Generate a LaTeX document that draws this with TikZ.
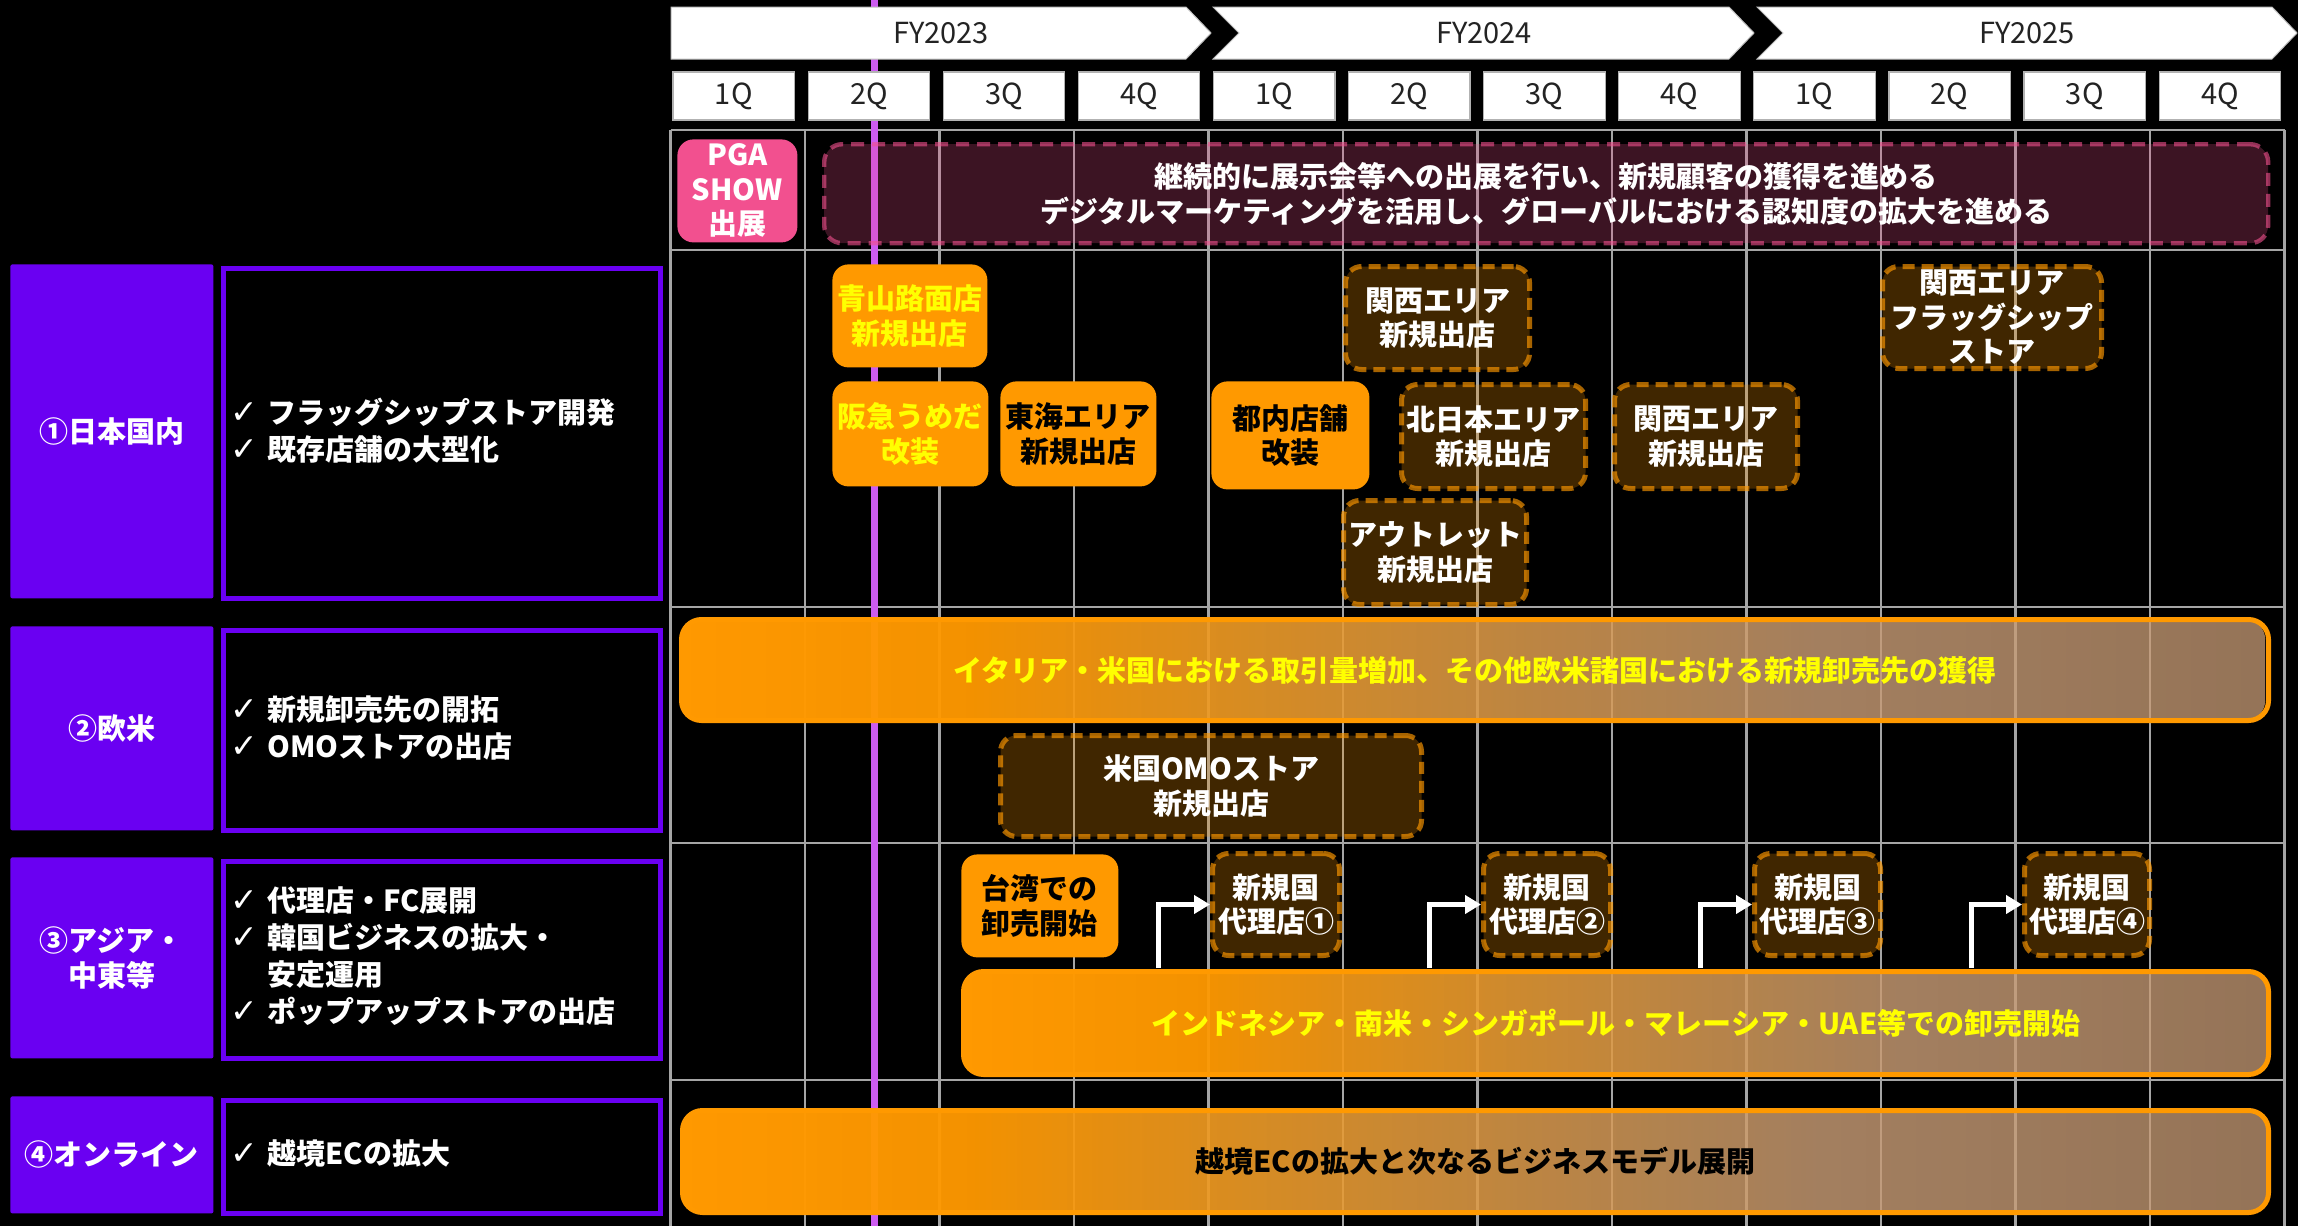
\documentclass[tikz,border=0pt]{standalone}
\usepackage{fontspec}
\setmainfont{Noto Sans CJK JP}
\newfontfamily\chkfont{DejaVu Sans}
\usetikzlibrary{arrows.meta,fadings}
\definecolor{vio}{RGB}{106,0,242}
\definecolor{vline}{RGB}{204,92,240}
\definecolor{org}{RGB}{255,153,0}
\definecolor{tanc}{RGB}{199,155,117}
\definecolor{pinkc}{RGB}{242,80,143}
\definecolor{gridc}{RGB}{165,165,165}
\definecolor{ylw}{RGB}{255,255,0}
\definecolor{qtext}{RGB}{35,35,35}
\pgfdeclarehorizontalshading{barshade}{100bp}{color(0bp)=(org); color(34bp)=(org); color(61bp)=(tanc); color(100bp)=(tanc)}
\tikzfading[name=barfade, left color=transparent!0, right color=transparent!25]
\newcommand\fb{\bfseries\fontsize{14.5}{17.25}\selectfont}
\newcommand\fl{\bfseries\fontsize{14.5}{18.4}\selectfont}
\newcommand\fq{\fontsize{14.5}{16}\selectfont}
\newcommand\ck{\makebox[18.5pt][l]{\chkfont\mdseries\fontsize{16.5}{14}\selectfont ✓}}
\newcommand\bx[7]{\node[#2, minimum width={(#5-#3)*0.5pt}, minimum height={(#6-#4)*0.5pt}, anchor=north west] (#1) at (#3,#4) {#7};}
\begin{document}
\begin{tikzpicture}[x=0.5pt,y=-0.5pt,
  gridl/.style={draw=gridc, line width=1.2pt},
  vl/.style={draw=vline, line width=3.5pt},
  chev/.style={fill=white, draw=gray!50, line width=0.5pt},
  fytxt/.style={font=\fq, text=qtext, inner sep=0pt},
  qbox/.style={fill=white, draw=gray!60, line width=0.6pt, minimum width=60.75pt, minimum height=24pt, inner sep=0pt, font=\fq, text=qtext},
  base/.style={inner sep=0pt, align=center, font=\fb},
  lab/.style={base, fill=vio, rounded corners=1pt, text=white},
  desc/.style={base, draw=vio, line width=2.5pt, fill=black},
  listtxt/.style={inner sep=0pt, align=left, font=\fl, text=white, anchor=west},
  pgabox/.style={base, fill=pinkc, rounded corners=8pt, text=white},
  maroonbox/.style={base, fill=pinkc, fill opacity=0.25, draw=pinkc, draw opacity=0.6, text opacity=1, line width=2.2pt, dash pattern=on 6.5pt off 4pt, rounded corners=9pt, text=white},
  obox/.style={base, fill=org, rounded corners=8pt, text=black},
  dbox/.style={base, fill=org, fill opacity=0.25, draw=org, draw opacity=0.65, text opacity=1, line width=2.5pt, dash pattern=on 6pt off 3.5pt, rounded corners=8pt, text=white},
  gbar/.style={base, draw=org, line width=2.5pt, rounded corners=10pt, text=black, preaction={shade, shading=barshade, path fading=barfade}},
  arr/.style={draw=white, line width=2.5pt, -{Triangle[length=8pt, width=9pt]}}
]
\fill[black] (0,0) rectangle (2298,1226);
\useasboundingbox (0,0) rectangle (2298,1226);
% grid
\foreach \k in {0,...,12} \draw[gridl] ({670.5+134.5*\k},130) -- ({670.5+134.5*\k},1226);
\foreach \y in {130,250,607,843,1080} \draw[gridl] (670.5,\y) -- (2284.5,\y);
% current-time line
\draw[vl] (874,0) -- (874,1226);
% fiscal years
\path[chev] (671,7) -- (1186,7) -- (1211,33) -- (1186,59) -- (671,59) -- cycle;
\path[chev] (1213,7) -- (1729,7) -- (1754,33) -- (1729,59) -- (1213,59) -- (1239,33) -- cycle;
\path[chev] (1757,7) -- (2272,7) -- (2297,33) -- (2272,59) -- (1757,59) -- (1783,33) -- cycle;
\node[fytxt] (fy23) at (941,33) {FY2023};
\node[fytxt] (fy24) at (1484,33) {FY2024};
\node[fytxt] (fy25) at (2027,33) {FY2025};
% quarters
\foreach \k/\q in {0/1Q,1/2Q,2/3Q,3/4Q,4/1Q,5/2Q,6/3Q,7/4Q,8/1Q,9/2Q,10/3Q,11/4Q}
  \node[qbox] (q\k) at ({733.75+135.1*\k},96) {\q};
% left column
\bx{l1}{lab}{10}{264}{213}{598}{①日本国内}
\bx{l2}{lab}{10}{626}{213}{830}{②欧米}
\bx{l3}{lab}{10}{857}{213}{1058}{③アジア・\\中東等}
\bx{l4}{lab}{10}{1096}{213}{1213}{④オンライン}
\bx{d1}{desc}{221}{266}{658}{596}{}
\bx{d2}{desc}{221}{628}{658}{828}{}
\bx{d3}{desc}{221}{859}{658}{1056}{}
\bx{d4}{desc}{221}{1098}{658}{1211}{}
\node[listtxt] (t1) at (230,431) {\ck フラッグシップストア開発\\\ck 既存店舗の大型化};
\node[listtxt] (t2) at (230,728) {\ck 新規卸売先の開拓\\\ck OMOストアの出店};
\node[listtxt] (t3) at (230,956) {\ck 代理店・FC展開\\\ck 韓国ビジネスの拡大・\\\hspace*{18.5pt}安定運用\\\ck ポップアップストアの出店};
\node[listtxt] (t4) at (230,1154) {\ck 越境ECの拡大};
% row 0
\bx{pga}{pgabox}{677}{139}{797}{242}{PGA\\SHOW\\出展}
\bx{expo}{maroonbox}{822}{142}{2266}{241}{継続的に展示会等への出展を行い、新規顧客の獲得を進める\\デジタルマーケティングを活用し、グローバルにおける認知度の拡大を進める}
% row 1
\bx{aoyama}{obox, text=ylw}{832}{264}{987}{367}{青山路面店\\新規出店}
\bx{hankyu}{obox, text=ylw}{832}{381}{988}{486}{阪急うめだ\\改装}
\bx{tokai}{obox}{1000}{381}{1156}{486}{東海エリア\\新規出店}
\bx{tonai}{obox}{1211}{381}{1369}{489}{都内店舗\\改装}
\bx{kansai1}{dbox}{1343}{264}{1527}{367}{関西エリア\\新規出店}
\bx{kitanihon}{dbox}{1399}{382}{1583}{486}{北日本エリア\\新規出店}
\bx{kansai2}{dbox}{1612}{382}{1795}{486}{関西エリア\\新規出店}
\bx{outlet}{dbox}{1341}{498}{1524}{602}{アウトレット\\新規出店}
\bx{kansaifs}{dbox}{1880}{264}{2099}{366}{関西エリア\\フラッグシップ\\ストア}
% row 2
\bx{bar2}{gbar, text=ylw}{679}{617}{2266}{718}{イタリア・米国における取引量増加、その他欧米諸国における新規卸売先の獲得}
\bx{omo}{dbox}{998}{733}{1419}{834}{米国OMOストア\\新規出店}
% row 3
\bx{taiwan}{obox}{961}{854}{1118}{957}{台湾での\\卸売開始}
\bx{ag1}{dbox}{1210}{851}{1337}{953}{新規国\\代理店①}
\bx{ag2}{dbox}{1481}{851}{1608}{953}{新規国\\代理店②}
\bx{ag3}{dbox}{1752}{851}{1878}{953}{新規国\\代理店③}
\bx{ag4}{dbox}{2022}{851}{2147}{953}{新規国\\代理店④}
\bx{bar3}{gbar, text=ylw}{961}{969}{2266}{1072}{インドネシア・南米・シンガポール・マレーシア・UAE等での卸売開始}
% row 4
\bx{bar4}{gbar}{680}{1108}{2266}{1210}{越境ECの拡大と次なるビジネスモデル展開}
% arrows
\coordinate (s1) at (1158,968);
\coordinate (s2) at (1429,968);
\coordinate (s3) at (1700,968);
\coordinate (s4) at (1971,968);
\draw[arr] (s1) |- (ag1.west);
\draw[arr] (s2) |- (ag2.west);
\draw[arr] (s3) |- (ag3.west);
\draw[arr] (s4) |- (ag4.west);
\end{tikzpicture}
\end{document}
